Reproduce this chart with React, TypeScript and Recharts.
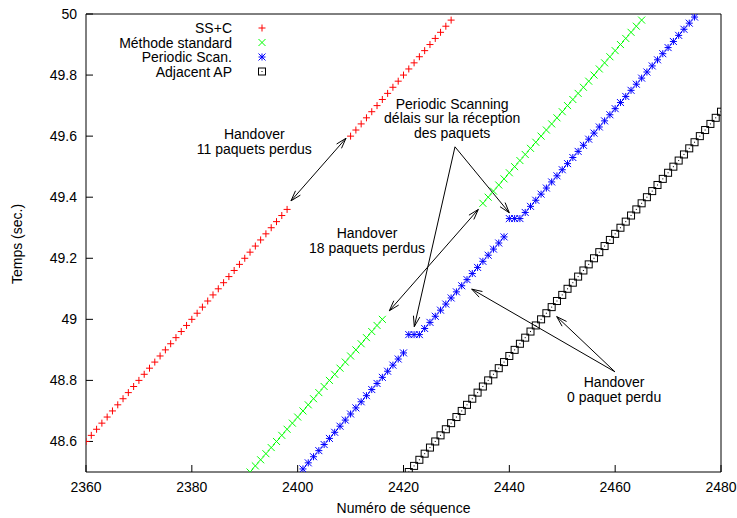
import {
  Legend,
  ReferenceArea,
  ReferenceDot,
  ReferenceLine,
  Scatter,
  ScatterChart,
  XAxis,
  YAxis,
} from "recharts";

const FONT = "'Liberation Sans', Arial, Helvetica, sans-serif";

// sequence numbers / reception times
const ssSeq = [
  2360, 2361, 2362, 2363, 2364, 2365, 2366, 2367, 2368, 2369, 2370, 2371, 2372, 2373, 2374, 2375, 2376, 2377, 2378, 2379,
  2380, 2381, 2382, 2383, 2384, 2385, 2386, 2387, 2388, 2389, 2390, 2391, 2392, 2393, 2394, 2395, 2396, 2397, 2398,
  2410, 2411, 2412, 2413, 2414, 2415, 2416, 2417, 2418, 2419, 2420, 2421, 2422, 2423, 2424, 2425, 2426, 2427, 2428, 2429,
];
const ssTime = [
  48.6, 48.62, 48.64, 48.66, 48.68, 48.7, 48.72, 48.74, 48.76, 48.78, 48.8, 48.82, 48.84, 48.86, 48.88, 48.9, 48.92, 48.94, 48.96, 48.98,
  49.0, 49.02, 49.04, 49.06, 49.08, 49.1, 49.12, 49.14, 49.16, 49.18, 49.2, 49.22, 49.24, 49.26, 49.28, 49.3, 49.32, 49.34, 49.36,
  49.6, 49.62, 49.64, 49.66, 49.68, 49.7, 49.72, 49.74, 49.76, 49.78, 49.8, 49.82, 49.84, 49.86, 49.88, 49.9, 49.92, 49.94, 49.96, 49.98,
];

const stdSeq = [
  2391, 2392, 2393, 2394, 2395, 2396, 2397, 2398, 2399, 2400, 2401, 2402, 2403, 2404, 2405, 2406, 2407, 2408, 2409, 2410,
  2411, 2412, 2413, 2414, 2415, 2416,
  2435, 2436, 2437, 2438, 2439, 2440, 2441, 2442, 2443, 2444, 2445, 2446, 2447, 2448, 2449, 2450, 2451, 2452, 2453, 2454,
  2455, 2456, 2457, 2458, 2459, 2460, 2461, 2462, 2463, 2464, 2465,
];
const stdTime = [
  48.5, 48.52, 48.54, 48.56, 48.58, 48.6, 48.62, 48.64, 48.66, 48.68, 48.7, 48.72, 48.74, 48.76, 48.78, 48.8, 48.82, 48.84, 48.86, 48.88,
  48.9, 48.92, 48.94, 48.96, 48.98, 49.0,
  49.38, 49.4, 49.42, 49.44, 49.46, 49.48, 49.5, 49.52, 49.54, 49.56, 49.58, 49.6, 49.62, 49.64, 49.66, 49.68, 49.7, 49.72, 49.74, 49.76,
  49.78, 49.8, 49.82, 49.84, 49.86, 49.88, 49.9, 49.92, 49.94, 49.96, 49.98,
];

const psSeq = [
  2401, 2402, 2403, 2404, 2405, 2406, 2407, 2408, 2409, 2410, 2411, 2412, 2413, 2414, 2415, 2416, 2417, 2418, 2419, 2420,
  2421, 2422, 2423,
  2424, 2425, 2426, 2427, 2428, 2429, 2430, 2431, 2432, 2433, 2434, 2435, 2436, 2437, 2438, 2439,
  2440, 2441, 2442,
  2443, 2444, 2445, 2446, 2447, 2448, 2449, 2450, 2451, 2452, 2453, 2454, 2455, 2456, 2457, 2458, 2459, 2460, 2461, 2462,
  2463, 2464, 2465, 2466, 2467, 2468, 2469, 2470, 2471, 2472, 2473, 2474, 2475,
];
const psTime = [
  48.51, 48.53, 48.55, 48.57, 48.59, 48.61, 48.63, 48.65, 48.67, 48.69, 48.71, 48.73, 48.75, 48.77, 48.79, 48.81, 48.83, 48.85, 48.87, 48.89,
  48.95, 48.95, 48.95,
  48.97, 48.99, 49.01, 49.03, 49.05, 49.07, 49.09, 49.11, 49.13, 49.15, 49.17, 49.19, 49.21, 49.23, 49.25, 49.27,
  49.33, 49.33, 49.33,
  49.35, 49.37, 49.39, 49.41, 49.43, 49.45, 49.47, 49.49, 49.51, 49.53, 49.55, 49.57, 49.59, 49.61, 49.63, 49.65, 49.67, 49.69, 49.71, 49.73,
  49.75, 49.77, 49.79, 49.81, 49.83, 49.85, 49.87, 49.89, 49.91, 49.93, 49.95, 49.97, 49.99,
];

const apSeq = [
  2421, 2422, 2423, 2424, 2425, 2426, 2427, 2428, 2429, 2430, 2431, 2432, 2433, 2434, 2435, 2436, 2437, 2438, 2439, 2440,
  2441, 2442, 2443, 2444, 2445, 2446, 2447, 2448, 2449, 2450, 2451, 2452, 2453, 2454, 2455, 2456, 2457, 2458, 2459, 2460,
  2461, 2462, 2463, 2464, 2465, 2466, 2467, 2468, 2469, 2470, 2471, 2472, 2473, 2474, 2475, 2476, 2477, 2478, 2479, 2480,
];
const apTime = [
  48.5, 48.52, 48.54, 48.56, 48.58, 48.6, 48.62, 48.64, 48.66, 48.68, 48.7, 48.72, 48.74, 48.76, 48.78, 48.8, 48.82, 48.84, 48.86, 48.88,
  48.9, 48.92, 48.94, 48.96, 48.98, 49.0, 49.02, 49.04, 49.06, 49.08, 49.1, 49.12, 49.14, 49.16, 49.18, 49.2, 49.22, 49.24, 49.26, 49.28,
  49.3, 49.32, 49.34, 49.36, 49.38, 49.4, 49.42, 49.44, 49.46, 49.48, 49.5, 49.52, 49.54, 49.56, 49.58, 49.6, 49.62, 49.64, 49.66, 49.68,
];

const xTicks = [2360, 2380, 2400, 2420, 2440, 2460, 2480];
const yTicks = [48.6, 48.8, 49, 49.2, 49.4, 49.6, 49.8, 50];

type Kind = "plus" | "cross" | "star" | "box";

const series: { name: string; kind: Kind; color: string; seq: number[]; time: number[] }[] = [
  { name: "SS+C", kind: "plus", color: "#ff0000", seq: ssSeq, time: ssTime },
  { name: "Méthode standard", kind: "cross", color: "#00ff00", seq: stdSeq, time: stdTime },
  { name: "Periodic Scan.", kind: "star", color: "#0000ff", seq: psSeq, time: psTime },
  { name: "Adjacent AP", kind: "box", color: "#000000", seq: apSeq, time: apTime },
];

// annotations, in data coordinates
const notes = [
  { x: 2391.8, y: 49.59, lines: ["Handover", "11 paquets perdus"] },
  { x: 2429.2, y: 49.689, lines: ["Periodic Scanning", "délais sur la réception", "des paquets"] },
  { x: 2413.1, y: 49.265, lines: ["Handover", "18 paquets perdus"] },
  { x: 2459.8, y: 48.778, lines: ["Handover", "0 paquet perdu"] },
];
const arrows = [
  { from: { x: 2398.74, y: 49.388 }, to: { x: 2409.13, y: 49.593 }, both: true },
  { from: { x: 2417.32, y: 49.028 }, to: { x: 2434.14, y: 49.36 }, both: true },
  { from: { x: 2429.73, y: 49.565 }, to: { x: 2422.04, y: 48.976 }, both: false },
  { from: { x: 2429.73, y: 49.565 }, to: { x: 2439.99, y: 49.349 }, both: false },
  { from: { x: 2459.97, y: 48.828 }, to: { x: 2432.89, y: 49.099 }, both: false },
  { from: { x: 2459.97, y: 48.828 }, to: { x: 2448.95, y: 49.009 }, both: false },
];

function Mark({ kind, cx, cy, color }: { kind: Kind; cx: number; cy: number; color: string }) {
  const s = 3.5;
  const plus = `M${cx - s},${cy}H${cx + s}M${cx},${cy - s}V${cy + s}`;
  const cross = `M${cx - s},${cy - s}L${cx + s},${cy + s}M${cx - s},${cy + s}L${cx + s},${cy - s}`;
  if (kind === "box") {
    const b = 3.5;
    return (
      <g>
        <rect x={cx - b} y={cy - b} width={2 * b} height={2 * b} fill="none" stroke={color} strokeWidth={1} />
        <rect x={cx - 0.5} y={cy - 0.5} width={1} height={1} fill={color} />
      </g>
    );
  }
  const d = kind === "plus" ? plus : kind === "cross" ? cross : plus + cross;
  return <path d={d} stroke={color} strokeWidth={1} fill="none" />;
}

function headPath(ax: number, ay: number, bx: number, by: number) {
  const ang = Math.atan2(by - ay, bx - ax);
  const L = 11;
  const w = 0.3;
  const p1x = bx - L * Math.cos(ang - w);
  const p1y = by - L * Math.sin(ang - w);
  const p2x = bx - L * Math.cos(ang + w);
  const p2y = by - L * Math.sin(ang + w);
  return `M${p1x},${p1y}L${bx},${by}L${p2x},${p2y}`;
}

const arrowShape = (both: boolean) => (p: any) => {
  const { x1, y1, x2, y2 } = p;
  let d = `M${x1},${y1}L${x2},${y2}` + headPath(x1, y1, x2, y2);
  if (both) d += headPath(x2, y2, x1, y1);
  return <path d={d} stroke="#000" strokeWidth={1} fill="none" />;
};

const noteShape = (lines: string[]) => (p: any) => (
  <text x={p.cx} y={p.cy} textAnchor="middle" fontSize={14} fontFamily={FONT} fill="#000">
    {lines.map((t, i) => (
      <tspan key={i} x={p.cx} dy={i === 0 ? 0 : 14.5}>
        {t}
      </tspan>
    ))}
  </text>
);

// keys drawn in the same order as the series (gnuplot style, text left of the sample)
function LegendBox() {
  return (
    <svg width={280} height={90} style={{ display: "block" }}>
      {series.map((s, i) => {
        const cy = 28 + i * 14.5;
        return (
          <g key={s.name}>
            <text x={232} y={cy + 5} textAnchor="end" fontSize={14} fontFamily={FONT} fill="#000">
              {s.name}
            </text>
            <Mark kind={s.kind} cx={262} cy={cy} color={s.color} />
          </g>
        );
      })}
    </svg>
  );
}

function YTitle({ viewBox }: any) {
  const cx = viewBox.x + 22;
  const cy = viewBox.y + viewBox.height / 2 + 1;
  return (
    <text x={cx} y={cy} transform={`rotate(-90 ${cx} ${cy})`} textAnchor="middle" fontSize={14} fontFamily={FONT} fill="#000">
      Temps (sec.)
    </text>
  );
}

function XTitle({ viewBox }: any) {
  return (
    <text x={viewBox.x + viewBox.width / 2} y={viewBox.y + 41} textAnchor="middle" fontSize={14} fontFamily={FONT} fill="#000">
      Numéro de séquence
    </text>
  );
}

export default function App() {
  const tickStyle = { fontSize: 14, fontFamily: FONT, fill: "#000" };
  return (
    <div style={{ position: "absolute", left: 0, top: 0, background: "#fff" }}>
      <ScatterChart width={737} height={518} margin={{ top: 14, right: 16, bottom: 0, left: 0 }}>
        <XAxis
          type="number"
          dataKey="x"
          domain={[2360, 2480]}
          ticks={xTicks}
          interval={0}
          allowDataOverflow
          height={46}
          axisLine={false}
          tickLine={{ stroke: "#000" }}
          tickSize={-7}
          tickMargin={17}
          tick={tickStyle}
          label={<XTitle />}
        />
        <YAxis
          type="number"
          dataKey="y"
          domain={[48.5, 50]}
          ticks={yTicks}
          interval={0}
          allowDataOverflow
          width={86}
          axisLine={false}
          tickLine={{ stroke: "#000" }}
          tickSize={-7}
          tickMargin={16}
          tick={tickStyle}
          label={<YTitle />}
        />
        <ReferenceArea x1={2360} x2={2480} y1={48.5} y2={50} fill="none" stroke="#000" strokeWidth={1} fillOpacity={0} />
        {series.map((s) => (
          <Scatter
            key={s.name}
            name={s.name}
            data={s.seq.map((q, i) => ({ x: q, y: s.time[i] }))}
            fill={s.color}
            isAnimationActive={false}
            shape={(p: any) => <Mark kind={s.kind} cx={p.cx} cy={p.cy} color={s.color} />}
          />
        ))}
        {arrows.map((a, i) => (
          <ReferenceLine key={"a" + i} segment={[a.from, a.to]} stroke="#000" shape={arrowShape(a.both)} ifOverflow="visible" />
        ))}
        {notes.map((n, i) => (
          <ReferenceDot key={"n" + i} x={n.x} y={n.y} r={0} shape={noteShape(n.lines)} ifOverflow="visible" />
        ))}
        <Legend
          content={<LegendBox />}
          layout="horizontal"
          verticalAlign="middle"
          align="center"
          wrapperStyle={{ left: 0, top: 0, width: 280, height: 90 }}
        />
      </ScatterChart>
    </div>
  );
}
